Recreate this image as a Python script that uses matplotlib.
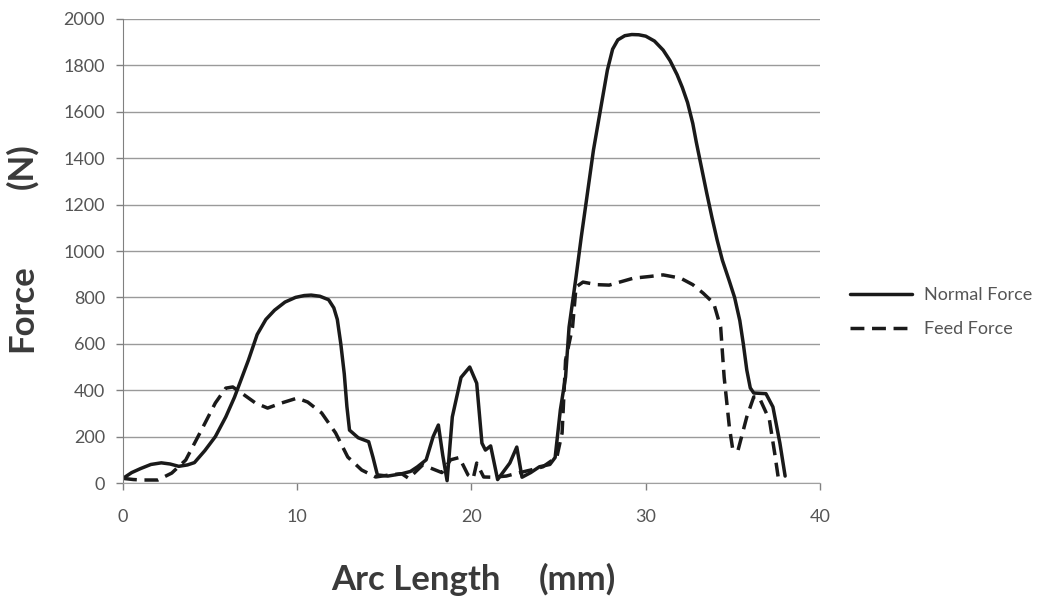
import matplotlib
matplotlib.use("Agg")
import matplotlib.pyplot as plt

# ---- data ----
normal_x = [0, 0.5, 1.0, 1.6, 2.2, 2.7, 3.2, 3.7, 4.1, 4.7, 5.3, 5.9, 6.4, 6.8, 7.2, 7.7,
            8.2, 8.7, 9.3, 9.9, 10.4, 10.8, 11.3, 11.8, 12.1, 12.3, 12.5, 12.7, 12.85,
            13.0, 13.5, 14.1, 14.35, 14.6, 15.2, 16.0, 16.5, 16.9, 17.4, 17.8, 18.1,
            18.35, 18.6, 18.9, 19.4, 19.9, 20.3, 20.6, 20.8, 21.1, 21.5, 22.2, 22.6,
            22.9, 23.4, 23.9, 24.5, 24.8, 25.1, 25.4, 25.6, 26.0, 26.3, 26.6, 27.0,
            27.5, 27.8, 28.1, 28.4, 28.8, 29.2, 29.6, 30.0, 30.5, 31.0, 31.4, 31.8,
            32.1, 32.4, 32.7, 32.9, 33.2, 33.5, 33.8, 34.1, 34.4, 34.8, 35.1, 35.4,
            35.6, 35.8, 36.0, 36.2, 36.9, 37.3, 37.7, 38.0]
normal_y = [20, 45, 62, 80, 87, 82, 72, 78, 88, 140, 200, 285, 370, 450, 530, 640,
            705, 745, 780, 800, 808, 810, 805, 790, 755, 705, 600, 470, 330,
            228, 195, 178, 110, 35, 30, 40, 50, 70, 100, 200, 250,
            120, 10, 285, 455, 500, 430, 172, 142, 160, 15, 86, 155,
            25, 45, 70, 80, 110, 315, 457, 672, 888, 1060, 1220, 1435,
            1651, 1780, 1870, 1910, 1928, 1933, 1932, 1926, 1905, 1866, 1820, 1760,
            1705, 1640, 1550, 1470, 1360, 1250, 1145, 1047, 960, 870, 800, 700,
            600, 487, 410, 388, 385, 328, 172, 30]

feed_x = [0, 0.6, 1.1, 2.0, 2.8, 3.6, 4.5, 5.3, 5.9, 6.3, 6.8, 7.6, 8.3, 9.1, 10.0, 10.6,
          11.4, 12.2, 12.9, 13.7, 14.5, 15.3, 16.0, 16.4, 17.2, 17.8, 18.3, 18.8, 19.3,
          19.8, 20.1, 20.3, 20.7, 21.2, 22.0, 22.5, 23.4, 24.1, 24.9, 25.2, 25.4, 25.8,
          26.0, 26.4, 27.2, 27.9, 28.6, 29.3, 30.2, 31.0, 32.0, 32.7, 33.3, 33.9, 34.3,
          34.5, 34.8, 35.0, 35.3, 35.8, 36.2, 36.5, 37.1, 37.4, 37.6, 37.9]
feed_y = [20, 15, 13, 13, 43, 99, 228, 345, 409, 414, 388, 345, 323, 345, 366, 349,
          302, 216, 112, 56, 26, 35, 40, 20, 78, 60, 45, 100, 110,
          35, 20, 86, 26, 25, 30, 40, 56, 70, 112, 216, 530, 672,
          845, 866, 855, 853, 868, 883, 890, 897, 883, 855, 818, 775, 672,
          457, 241, 142, 142, 285, 371, 371, 272, 129, 26, 43]

series_labels = ["Normal Force", "Feed Force"]
x_ticks = [0, 10, 20, 30, 40]
y_ticks = list(range(0, 2001, 200))
x_label_parts = ["Arc Length", "(mm)"]
y_label_parts = ["Force", "(N)"]

# ---- figure ----
FONT = "Lato"
fig = plt.figure(figsize=(10.53, 6.01), dpi=100)
ax = fig.add_axes([0.1168, 0.1963, 0.6619, 0.7721])

ax.plot(normal_x, normal_y, color="#1a1a1a", lw=2.5, label=series_labels[0],
        solid_joinstyle="round", solid_capstyle="round")
ax.plot(feed_x, feed_y, color="#1a1a1a", lw=2.5, label=series_labels[1],
        dashes=(4, 2.2), dash_joinstyle="round")

ax.set_xlim(0, 40)
ax.set_ylim(0, 2000)
ax.set_xticks(x_ticks)
ax.set_yticks(y_ticks)
ax.grid(axis="y", color="#9a9a9a", lw=1.0)
ax.set_axisbelow(True)
for s in ["top", "right"]:
    ax.spines[s].set_visible(False)
ax.spines["left"].set_color("#808080")
ax.spines["bottom"].set_color("#a0a0a0")
ax.tick_params(axis="both", colors="#808080", length=5, width=1,
               labelcolor="#555555", labelsize=13)
ax.tick_params(axis="x", pad=14)
ax.tick_params(axis="y", pad=8)
for lab in ax.get_xticklabels() + ax.get_yticklabels():
    lab.set_fontfamily(FONT)

lab_kw = dict(fontsize=25, fontweight="bold", family=FONT, color="#3a3a3a")
fig.text(416 / 1053, 1 - 590 / 601, x_label_parts[0], ha="center", va="baseline", **lab_kw)
fig.text(577 / 1053, 1 - 590 / 601, x_label_parts[1], ha="center", va="baseline", **lab_kw)
fig.text(0.021, 1 - 308 / 601, y_label_parts[0], ha="center", va="center", rotation=90, **lab_kw)
fig.text(0.021, 1 - 166 / 601, y_label_parts[1], ha="center", va="center", rotation=90, **lab_kw)

leg = fig.legend(loc="center left", bbox_to_anchor=(0.792, 0.481), frameon=False,
                 prop={"family": FONT, "size": 13}, handlelength=3.4,
                 labelspacing=1.0, handletextpad=0.7)
for t in leg.get_texts():
    t.set_color("#555555")

fig.savefig("out.png", dpi=100, facecolor="white")
